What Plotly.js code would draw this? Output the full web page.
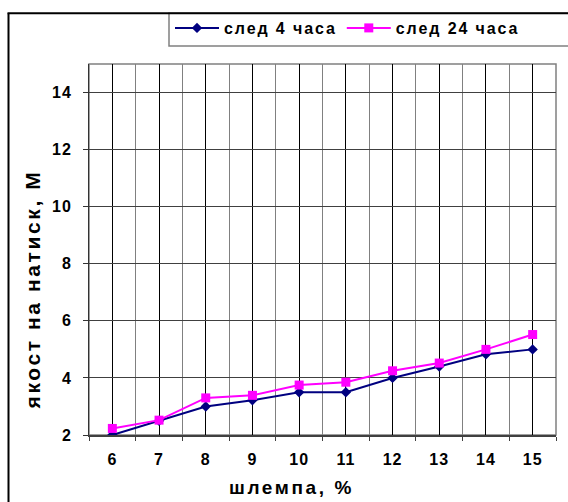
<!DOCTYPE html>
<html>
<head>
<meta charset="utf-8">
<script src="https://cdn.plot.ly/plotly-3.0.1.min.js"></script>
<style>
html,body{margin:0;padding:0;background:#fff;}
#chart{width:568px;height:502px;}
.legendtext{letter-spacing:1.9px;}
.xtick text,.ytick text{letter-spacing:1px;}
.annotation-text{letter-spacing:2.6px;}
</style>
</head>
<body>
<div id="chart"></div>
<script>
const categories = [6, 7, 8, 9, 10, 11, 12, 13, 14, 15];
const after4h = [2.0, 2.5, 3.0, 3.22, 3.5, 3.5, 4.0, 4.4, 4.83, 5.0];
const after24h = [2.23, 2.52, 3.3, 3.39, 3.75, 3.85, 4.25, 4.52, 5.0, 5.52];
const seriesNames = ['след 4 часа', 'след 24 часа'];
const yTicks = [2, 4, 6, 8, 10, 12, 14];
const xTitle = 'шлемпа, %';
const yTitle = 'якост на натиск, М';

const font = 'Liberation Sans, Arial, sans-serif';
const boundaries = categories.map(c => c - 0.5).concat([categories[categories.length - 1] + 0.5]);

const traces = [
  {x: categories, y: after4h, name: seriesNames[0], type: 'scatter', mode: 'lines+markers',
   line: {color: '#000080', width: 2}, marker: {symbol: 'diamond', size: 8, color: '#000080'}},
  {x: categories, y: after24h, name: seriesNames[1], type: 'scatter', mode: 'lines+markers',
   line: {color: '#FF00FF', width: 2}, marker: {symbol: 'square', size: 9, color: '#FF00FF'}}
];

// plot area: px left 89, right 556, top 63, bottom 435
const L = 89, R = 12, T = 63, B = 67, W = 568 - L - R, H = 502 - T - B;
const px = v => (v - L) / W;
const py = v => (502 - B - v) / H;

const layout = {
  width: 568, height: 502,
  margin: {l: L, r: R, t: T, b: B, pad: 0},
  paper_bgcolor: '#fff', plot_bgcolor: '#fff',
  showlegend: true,
  legend: {orientation: 'h', x: px(170), xanchor: 'left', y: py(11), yanchor: 'top',
           bgcolor: 'rgba(0,0,0,0)', borderwidth: 0, itemwidth: 44,
           font: {family: font, size: 16, color: '#000', weight: 'bold'}},
  xaxis: {range: [5.5, 15.5], tickmode: 'array', tickvals: categories, ticktext: categories.map(String),
          ticks: '', showgrid: true, gridcolor: '#000', gridwidth: 1, zeroline: false,
          showline: true, linecolor: '#404040', linewidth: 2,
          ticklabelstandoff: 9,
          tickfont: {family: font, size: 16, color: '#000', weight: 'bold'},
          minor: {tickmode: 'array', tickvals: boundaries, ticks: 'outside', ticklen: 4,
                  tickcolor: '#404040', tickwidth: 1, showgrid: true, gridcolor: '#808080', gridwidth: 1},
          fixedrange: true},
  yaxis: {range: [2, 15], tickmode: 'array', tickvals: yTicks, ticks: 'outside', ticklen: 5,
          tickcolor: '#333', showgrid: true, gridcolor: '#404040', gridwidth: 1, zeroline: false,
          showline: true, linecolor: '#333', linewidth: 1, ticklabelstandoff: 8,
          tickfont: {family: font, size: 16, color: '#000', weight: 'bold'}, fixedrange: true},
  shapes: [
    {type: 'rect', xref: 'paper', yref: 'paper', x0: 0, x1: 1, y0: 0, y1: 1,
     line: {color: '#808080', width: 1.5}, layer: 'below'},
    {type: 'rect', xref: 'paper', yref: 'paper', x0: px(169), x1: px(580), y0: py(45), y1: py(12),
     line: {color: '#808080', width: 1.5}, fillcolor: '#fff', layer: 'above'},
    {type: 'line', xref: 'paper', yref: 'paper', x0: px(8.5), x1: px(8.5), y0: py(12), y1: py(520),
     line: {color: '#000', width: 2}},
    {type: 'line', xref: 'paper', yref: 'paper', x0: px(7.5), x1: px(580), y0: py(12), y1: py(12),
     line: {color: '#000', width: 2}}
  ],
  annotations: [
    {text: xTitle, xref: 'paper', yref: 'paper', x: px(291), y: py(488), xanchor: 'center', yanchor: 'middle',
     showarrow: false, font: {family: font, size: 19, color: '#000', weight: 'bold'}},
    {text: yTitle, xref: 'paper', yref: 'paper', x: px(32), y: py(289), xanchor: 'center', yanchor: 'middle',
     textangle: -90, showarrow: false, font: {family: font, size: 21, color: '#000', weight: 'bold'}}
  ]
};

Plotly.newPlot('chart', traces, layout, {displayModeBar: false, staticPlot: true});
</script>
</body>
</html>
